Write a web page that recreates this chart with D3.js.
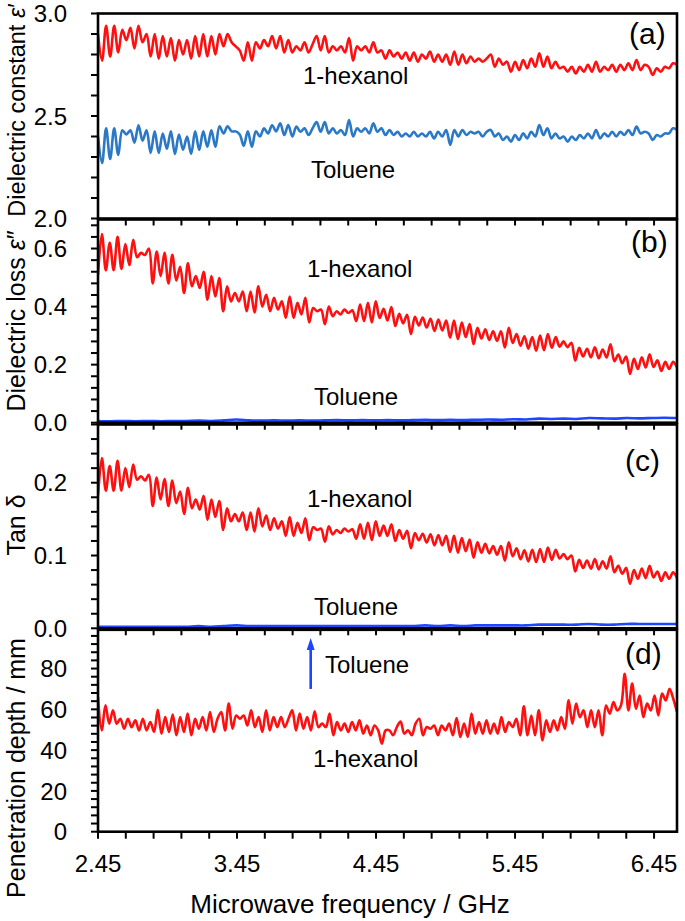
<!DOCTYPE html>
<html><head><meta charset="utf-8">
<script src="https://cdn.jsdelivr.net/npm/d3@7/dist/d3.min.js"></script>
<style>
body{margin:0;background:#fff}
svg{display:block}
text{font-family:"Liberation Sans",Arial,Helvetica,sans-serif;fill:#000}
</style>
</head><body>
<svg id="chart" width="685" height="921"></svg>
<script>
// ---------- data ----------
const freqRange = [2.45, 6.615];              // GHz, start/end of every sweep
const xMajorTicks = [2.45, 3.45, 4.45, 5.45, 6.45];

// (a) dielectric constant
const hexanolEps1 = [2.90,2.77,2.94,2.79,2.94,2.81,2.92,2.87,2.93,2.83,2.94,2.86,2.90,2.79,2.90,2.78,2.89,2.79,2.88,2.77,2.87,2.80,2.87,2.78,2.89,2.79,2.90,2.79,2.89,2.80,2.90,2.84,2.90,2.86,2.84,2.82,2.77,2.86,2.77,2.86,2.83,2.87,2.84,2.89,2.83,2.89,2.81,2.87,2.81,2.84,2.82,2.86,2.81,2.85,2.89,2.82,2.89,2.81,2.84,2.82,2.84,2.81,2.88,2.77,2.84,2.82,
 2.84,2.81,2.86,2.81,2.82,2.78,2.82,2.79,2.81,2.78,2.81,2.77,2.81,2.765,2.80,2.78,2.815,2.765,2.80,2.765,2.80,2.75,2.815,2.75,2.80,2.757,2.79,2.765,2.78,2.765,2.78,2.80,2.74,2.78,2.75,2.765,2.716,2.765,2.724,2.773,2.733,2.78,2.74,2.806,2.74,2.79,2.733,2.765,2.733,2.74,2.716,2.74,2.708,2.74,2.716,2.75,2.716,2.765,2.716,2.74,2.724,2.75,2.716,2.75,2.724,2.757,2.724,2.773,2.724,2.75,2.74,2.70,2.733,2.716,2.74,2.733,2.757,2.75];
const tolueneEps1 = [2.40,2.27,2.44,2.29,2.44,2.31,2.43,2.41,2.43,2.37,2.455,2.38,2.43,2.32,2.425,2.32,2.415,2.34,2.425,2.315,2.41,2.335,2.40,2.315,2.425,2.335,2.425,2.35,2.43,2.35,2.45,2.415,2.45,2.425,2.425,2.41,2.355,2.425,2.35,2.425,2.40,2.44,2.415,2.455,2.425,2.465,2.407,2.456,2.40,2.448,2.423,2.44,2.407,2.44,2.47,2.423,2.47,2.415,2.44,2.415,2.432,2.407,2.48,2.40,2.44,2.423,
 2.44,2.415,2.465,2.423,2.44,2.407,2.432,2.407,2.423,2.40,2.415,2.40,2.423,2.40,2.415,2.40,2.423,2.391,2.423,2.40,2.432,2.359,2.432,2.40,2.432,2.407,2.423,2.415,2.423,2.40,2.423,2.432,2.40,2.415,2.383,2.40,2.375,2.407,2.383,2.415,2.391,2.423,2.40,2.456,2.407,2.44,2.391,2.415,2.391,2.40,2.375,2.40,2.383,2.407,2.391,2.415,2.391,2.432,2.391,2.415,2.40,2.423,2.40,2.423,2.407,2.432,2.407,2.448,2.415,2.423,2.415,2.383,2.407,2.40,2.415,2.415,2.44,2.432];

// (b) dielectric loss
const hexanolEps2 = [0.51,0.65,0.525,0.62,0.525,0.64,0.53,0.615,0.543,0.63,0.57,0.585,0.578,0.60,0.48,0.59,0.505,0.585,0.48,0.578,0.49,0.537,0.447,0.55,0.47,0.505,0.464,0.52,0.424,0.505,0.435,0.498,0.384,0.47,0.418,0.447,0.418,0.452,0.384,0.452,0.38,0.47,0.40,0.441,0.384,0.43,0.39,0.418,0.361,0.435,0.361,0.413,0.373,0.43,0.345,0.395,0.384,0.39,0.339,0.40,0.367,0.384,0.373,0.39,0.378,0.387,0.35,0.407,0.35,0.413,0.345,0.418,0.361,
 0.392,0.352,0.398,0.333,0.375,0.342,0.372,0.305,0.365,0.335,0.362,0.328,0.358,0.316,0.355,0.318,0.352,0.293,0.352,0.288,0.345,0.295,0.340,0.27,0.327,0.29,0.322,0.285,0.315,0.282,0.315,0.259,0.327,0.275,0.305,0.265,0.298,0.255,0.295,0.248,0.30,0.25,0.305,0.258,0.295,0.262,0.28,0.26,0.275,0.214,0.258,0.228,0.255,0.225,0.26,0.222,0.252,0.225,0.27,0.212,0.235,0.205,0.228,0.168,0.22,0.185,0.225,0.19,0.236,0.192,0.215,0.178,0.21,0.185,0.21,0.19];
const tolueneEps2 = [0.006,0.005,0.006,0.005,0.006,0.005,0.006,0.006,0.007,0.006,0.008,0.011,0.008,0.007,0.008,0.007,0.008,0.007,0.008,0.009,0.008,0.009,0.008,0.009,0.008,0.009,0.010,0.009,0.010,0.009,0.010,0.011,0.010,0.012,0.011,0.014,0.013,0.014,0.013,0.016,0.015,0.014,0.016,0.015,0.016,0.017,0.016];

// (c) loss tangent
const hexanolTan = [0.183,0.234,0.189,0.223,0.189,0.230,0.189,0.220,0.194,0.225,0.204,0.209,0.203,0.211,0.168,0.207,0.177,0.205,0.168,0.203,0.172,0.188,0.157,0.193,0.165,0.177,0.163,0.182,0.149,0.177,0.153,0.175,0.135,0.165,0.147,0.157,0.147,0.159,0.135,0.159,0.133,0.165,0.140,0.155,0.135,0.151,0.137,0.147,0.127,0.153,0.127,0.145,0.131,0.151,0.121,0.139,0.135,0.137,0.119,0.140,0.129,0.135,0.131,0.137,0.133,0.136,0.123,0.143,0.123,0.145,0.121,0.147,0.127,
 0.141,0.127,0.143,0.120,0.135,0.123,0.134,0.110,0.131,0.121,0.130,0.118,0.129,0.114,0.128,0.114,0.127,0.105,0.127,0.104,0.124,0.106,0.122,0.097,0.118,0.104,0.116,0.103,0.113,0.101,0.113,0.093,0.118,0.099,0.110,0.095,0.107,0.092,0.108,0.091,0.109,0.091,0.111,0.094,0.108,0.096,0.102,0.095,0.100,0.078,0.094,0.083,0.093,0.082,0.095,0.081,0.092,0.082,0.099,0.077,0.086,0.075,0.083,0.061,0.080,0.068,0.082,0.069,0.086,0.070,0.078,0.065,0.077,0.068,0.077,0.069];
const tolueneTan = [0.002,0.002,0.002,0.002,0.002,0.002,0.002,0.002,0.003,0.002,0.003,0.004,0.003,0.003,0.003,0.003,0.003,0.003,0.003,0.003,0.003,0.003,0.003,0.003,0.003,0.003,0.004,0.003,0.004,0.003,0.004,0.004,0.004,0.004,0.004,0.005,0.005,0.005,0.005,0.006,0.005,0.005,0.006,0.006,0.006,0.006,0.006];

// (d) penetration depth (toluene is off scale)
const hexanolDepth = [66,49.7,62,53,59.5,53,55.4,50.5,55.4,51.3,54.6,49.7,55.4,49.7,53.8,48.9,59.8,48.1,56.2,48.9,57.4,47.3,56.2,48.9,57.9,47.3,55.4,50.5,56.2,49.7,58.7,48.9,55.4,58.7,49.7,62.8,50.5,57,55.4,57,52.1,59.5,51.3,56.2,48.9,59.5,49.7,56.2,51.3,56.2,51.3,55.4,59.5,49.7,57.9,50.5,56.2,49.7,59,51.3,53,51.3,57.9,47.3,53.8,49.7,53,48.9,53.8,49.7,54.6,48.1,52.1,47.3,52.1,49.7,43.2,49.7,
 49.7,47.3,51.3,54,48.1,49.7,47.3,53,55.4,47.3,51.3,50.5,52.1,47.3,52.1,49.7,53,47.3,55.7,46.5,53,46.5,57.9,48.1,53.8,48.1,54.6,48.1,53,48.1,56.2,48.9,53.8,51.3,55.4,47.3,61.5,47.3,57,47.3,59.5,44.8,54.6,48.9,54.6,49.7,56.2,50.5,64.4,53,62.8,56.2,59.5,51.3,59.5,51.3,59.5,47.3,61.9,57.9,63.6,59.5,61.9,77.4,59.5,72.6,60.3,66.8,56.2,62.8,59.5,66.8,57,67.7,64.4,70.1,65.2,58.7];
const tolueneArrow = {freq: 3.98, from: 70, to: 95};

// ---------- layout ----------
const svg = d3.select("#chart");
const L = 98, R = 677;
const x = d3.scaleLinear().domain(freqRange).range([L, R]);
const RED = "#ff1010", BLUE_A = "#2a78c6", BLUE = "#1c46ff";

const panels = [
  {top:13.5, bottom:218.5, domain:[2.0,3.0], major:[2.0,2.5,3.0], minor:d3.range(2.0,3.001,0.1), fmt:d3.format(".1f"), tag:"(a)",
   series:[{v:hexanolEps1,c:RED},{v:tolueneEps1,c:BLUE_A}],
   labels:[{t:"1-hexanol",x:303,y:84},{t:"Toluene",x:311,y:178}], tagPos:[629,44]},
  {top:219.5, bottom:422.7, domain:[0,0.7], major:[0,0.2,0.4,0.6], minor:d3.range(0,0.7,0.04), fmt:d3.format(".1f"), tag:"(b)",
   series:[{v:hexanolEps2,c:RED},{v:tolueneEps2,c:BLUE}],
   labels:[{t:"1-hexanol",x:307,y:277},{t:"Toluene",x:314,y:405}], tagPos:[631,252]},
  {top:424.5, bottom:628.3, domain:[0,0.28], major:[0,0.1,0.2], minor:d3.range(0,0.281,0.02), fmt:d3.format(".1f"), tag:"(c)",
   series:[{v:hexanolTan,c:RED},{v:tolueneTan,c:BLUE}],
   labels:[{t:"1-hexanol",x:307,y:507},{t:"Toluene",x:314,y:615}], tagPos:[625,471]},
  {top:629.8, bottom:831.7, domain:[0,99], major:[0,20,40,60,80], minor:d3.range(0,99,4), fmt:d3.format("d"), tag:"(d)",
   series:[{v:hexanolDepth,c:RED}],
   labels:[{t:"Toluene",x:325,y:673},{t:"1-hexanol",x:313,y:767}], tagPos:[625,664]}
];

const xMinor = d3.range(2.45, 6.62, 0.2);
const defs = svg.append("defs");

panels.forEach((p, k) => {
  const y = d3.scaleLinear().domain(p.domain).range([p.bottom, p.top]);
  const g = svg.append("g");
  defs.append("clipPath").attr("id","clip"+k).append("rect")
    .attr("x",L).attr("y",p.top).attr("width",R-L).attr("height",p.bottom-p.top);

  // series
  p.series.forEach(s => {
    const n = s.v.length;
    const f = d3.scaleLinear().domain([0, n-1]).range(freqRange);
    const pts = s.v.map((v,i) => [f(i), v]);
    g.append("path").attr("clip-path","url(#clip"+k+")")
      .attr("d", d3.line().x(d=>x(d[0])).y(d=>y(d[1])).curve(d3.curveCatmullRom.alpha(0.5))(pts))
      .attr("fill","none").attr("stroke",s.c).attr("stroke-width",2.6).attr("stroke-linejoin","round");
  });

  // y ticks
  g.selectAll(".ymin").data(p.minor).join("line")
    .attr("x1",L-7).attr("x2",L).attr("y1",d=>y(d)).attr("y2",d=>y(d))
    .attr("stroke","#000").attr("stroke-width",2);
  g.selectAll(".ylab").data(p.major).join("text")
    .attr("x",67).attr("y",d=>y(d)).attr("dy","0.36em").attr("text-anchor","end")
    .attr("font-size",24).text(d=>p.fmt(d));

  // x ticks (outward, below each panel)
  g.selectAll(".xt").data(xMinor).join("line")
    .attr("x1",d=>x(d)).attr("x2",d=>x(d)).attr("y1",p.bottom).attr("y2",p.bottom+7)
    .attr("stroke","#000").attr("stroke-width",2);

  // frame
  g.append("rect").attr("x",L).attr("y",p.top).attr("width",R-L).attr("height",p.bottom-p.top)
    .attr("fill","none").attr("stroke","#000").attr("stroke-width",2.6);

  // labels
  p.labels.forEach(l => g.append("text").attr("x",l.x).attr("y",l.y).attr("font-size",24).text(l.t));
  g.append("text").attr("x",p.tagPos[0]).attr("y",p.tagPos[1]).attr("font-size",30).text(p.tag);

  if (k === 3) {
    const ax = x(tolueneArrow.freq);
    g.append("line").attr("x1",ax).attr("x2",ax).attr("y1",y(tolueneArrow.from)).attr("y2",y(tolueneArrow.to)+10)
      .attr("stroke",BLUE).attr("stroke-width",2.6);
    const ty = y(tolueneArrow.to);
    g.append("path").attr("d",`M${ax},${ty} L${ax-4},${ty+12} L${ax+4},${ty+12} Z`).attr("fill",BLUE);
    g.selectAll(".xlab").data(xMajorTicks).join("text")
      .attr("x",d=>x(d)).attr("y",p.bottom+40).attr("text-anchor","middle").attr("font-size",24)
      .text(d=>d.toFixed(2));
  }
});

// axis titles
function ytitle(yc, size, parts){
  const t = svg.append("text").attr("transform",`translate(25,${yc}) rotate(-90)`)
    .attr("text-anchor","middle").attr("font-size",size);
  parts.forEach(pt => { const s = t.append("tspan").text(pt[0]); if (pt[1]) s.attr("font-style","italic"); });
}
ytitle(110, 23.5, [["Dielectric constant "],["ε",1],["′"]]);
ytitle(321, 25, [["Dielectric loss "],["ε",1],["″"]]);
ytitle(525, 25, [["Tan δ"]]);
ytitle(768, 25, [["Penetration depth / mm"]]);
svg.append("text").attr("x",350).attr("y",913).attr("text-anchor","middle").attr("font-size",26)
  .text("Microwave frequency / GHz");
</script>
</body></html>
